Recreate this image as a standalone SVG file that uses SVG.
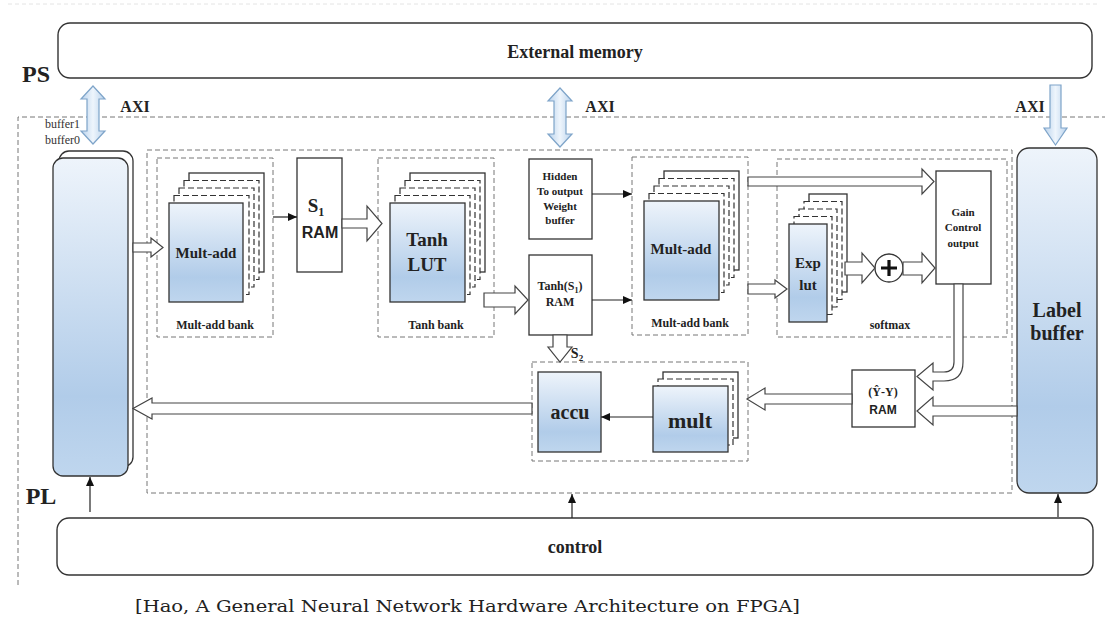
<svg xmlns="http://www.w3.org/2000/svg" width="1105" height="621" viewBox="0 0 1105 621">
<defs>
<linearGradient id="blue" x1="0" y1="0" x2="0" y2="1">
<stop offset="0" stop-color="#eef4fb"/>
<stop offset="0.75" stop-color="#b1cce9"/>
<stop offset="1" stop-color="#bfd6ee"/>
</linearGradient>
<linearGradient id="axi" x1="0" y1="0" x2="1" y2="0">
<stop offset="0" stop-color="#b9d2ec"/>
<stop offset="0.5" stop-color="#eef5fc"/>
<stop offset="1" stop-color="#b9d2ec"/>
</linearGradient>
<marker id="ah" markerWidth="10" markerHeight="8" refX="9" refY="4" orient="auto" markerUnits="userSpaceOnUse">
<path d="M0,0 L9,4 L0,8 Z" fill="#111"/>
</marker>
<style>
.t{font-family:"Liberation Serif","Times New Roman",serif;font-weight:bold;fill:#222;text-anchor:middle}
.s{font-family:"Liberation Sans",Arial,sans-serif;font-weight:bold;fill:#222;text-anchor:middle}
.box{fill:#fff;stroke:#333;stroke-width:1.3}
.blue{fill:url(#blue);stroke:#333;stroke-width:1.3}
.dash{fill:none;stroke:#777;stroke-width:1;stroke-dasharray:5,3}
.ldash{fill:#fff;stroke:#333;stroke-width:1.2;stroke-dasharray:6,3}
.hol{fill:#fff;stroke:#444;stroke-width:1.2;stroke-linejoin:miter}
.thin{stroke:#222;stroke-width:1.2;fill:none;marker-end:url(#ah)}
.axi{fill:url(#axi);stroke:#7ea4c9;stroke-width:1.2}
.rbox{fill:#fff;stroke:#333;stroke-width:1.4}
</style>
</defs>
<rect width="1105" height="621" fill="#fff"/>
<line x1="8" y1="4" x2="1100" y2="4" stroke="#e4e4e4" stroke-width="1" stroke-dasharray="4,3"/>

<!-- PS / PL regions -->
<g id="regions">
<path d="M18,585 L18,117 L1105,117" class="dash" stroke="#999"/>
<rect x="147" y="150" width="865" height="343" class="dash"/>
<text x="36" y="82" class="t" font-size="24">PS</text>
<text x="41" y="504" class="t" font-size="24">PL</text>
</g>

<g id="external-memory">
<rect x="58" y="23" width="1034" height="55" rx="12" class="rbox"/>
<text x="575" y="58" class="t" font-size="18">External memory</text>
</g>

<g id="control">
<rect x="57" y="518" width="1036" height="57" rx="12" class="rbox"/>
<text x="575" y="553" class="t" font-size="18">control</text>
</g>

<!-- AXI arrows -->
<g id="axi-left">
<path d="M93,86 L105,99 L99,99 L99,131 L105,131 L93,144 L81,131 L87,131 L87,99 L81,99 Z" class="axi"/>
<text x="135" y="112" class="t" font-size="16">AXI</text>
</g>
<g id="axi-mid">
<path d="M560,88 L572,101 L566,101 L566,134 L572,134 L560,147 L548,134 L554,134 L554,101 L548,101 Z" class="axi"/>
<text x="600" y="112" class="t" font-size="16">AXI</text>
</g>
<g id="axi-right">
<path d="M1050,85 L1061,85 L1061,128 L1067,128 L1055.5,145 L1044,128 L1050,128 Z" class="axi"/>
<text x="1030" y="112" class="t" font-size="16">AXI</text>
</g>

<!-- Input buffers -->
<g id="input-buffer">
<rect x="59" y="151" width="74" height="316" rx="10" class="box" fill="#fff"/>
<rect x="53" y="158" width="75" height="318" rx="10" class="blue"/>
<text x="45" y="128" font-family="Liberation Serif,serif" font-size="12" fill="#333">buffer1</text>
<text x="45" y="144" font-family="Liberation Serif,serif" font-size="12" fill="#333">buffer0</text>
</g>

<!-- Mult-add bank 1 -->
<g id="multadd-bank-1">
<rect x="157" y="158" width="116" height="179" class="dash"/>
<rect x="189" y="173" width="75" height="99" class="box"/>
<rect x="184" y="180.5" width="75" height="99" class="ldash"/>
<rect x="179" y="188" width="75" height="99" class="ldash"/>
<rect x="174" y="195.5" width="75" height="99" class="ldash"/>
<rect x="169" y="203" width="74" height="99" class="blue"/>
<text x="206" y="258" class="t" font-size="15">Mult-add</text>
<text x="215" y="329" class="t" font-size="12">Mult-add bank</text>
</g>

<g id="s1-ram">
<rect x="297" y="158" width="45" height="114" class="box"/>
<text x="316" y="212" class="t" font-size="19">S<tspan font-size="12" dy="4">1</tspan></text>
<text x="320" y="238" class="s" font-size="16">RAM</text>
</g>

<!-- Tanh bank -->
<g id="tanh-bank">
<rect x="378" y="158" width="116" height="179" class="dash"/>
<rect x="410" y="173" width="75" height="99" class="box"/>
<rect x="405" y="180.5" width="75" height="99" class="ldash"/>
<rect x="400" y="188" width="75" height="99" class="ldash"/>
<rect x="395" y="195.5" width="75" height="99" class="ldash"/>
<rect x="390" y="203" width="75" height="99" class="blue"/>
<text x="427" y="246" class="t" font-size="19">Tanh</text>
<text x="427" y="271" class="t" font-size="19">LUT</text>
<text x="436" y="329" class="t" font-size="12">Tanh bank</text>
</g>

<g id="hidden-weight-buffer">
<rect x="529" y="159" width="63" height="80" class="box"/>
<text x="560" y="180" class="t" font-size="11">Hidden</text>
<text x="560" y="195" class="t" font-size="11">To output</text>
<text x="560" y="210" class="t" font-size="11">Weight</text>
<text x="560" y="224" class="t" font-size="11">buffer</text>
</g>

<g id="tanh-s1-ram">
<rect x="529" y="255" width="63" height="80" class="box"/>
<text x="560" y="290" class="t" font-size="12">Tanh(S<tspan font-size="8" dy="3">1</tspan><tspan dy="-3">)</tspan></text>
<text x="560" y="306" class="t" font-size="12">RAM</text>
</g>

<!-- Mult-add bank 2 -->
<g id="multadd-bank-2">
<rect x="632" y="157" width="116" height="178" class="dash"/>
<rect x="664" y="171" width="75" height="99" class="box"/>
<rect x="659" y="178.5" width="75" height="99" class="ldash"/>
<rect x="654" y="186" width="75" height="99" class="ldash"/>
<rect x="649" y="193.5" width="75" height="99" class="ldash"/>
<rect x="644" y="201" width="75" height="99" class="blue"/>
<text x="681" y="254" class="t" font-size="15">Mult-add</text>
<text x="690" y="327" class="t" font-size="12">Mult-add bank</text>
</g>

<!-- softmax -->
<g id="softmax">
<rect x="777" y="159" width="230" height="178" class="dash"/>
<rect x="809" y="194" width="38" height="98" class="box"/>
<rect x="804" y="201.5" width="38" height="98" class="ldash"/>
<rect x="799" y="209" width="38" height="98" class="ldash"/>
<rect x="794" y="216.5" width="38" height="98" class="ldash"/>
<rect x="789" y="224" width="38" height="98" class="blue"/>
<text x="808" y="268" class="t" font-size="15">Exp</text>
<text x="808" y="290" class="t" font-size="15">lut</text>
<circle cx="889" cy="268" r="14" class="box"/>
<path d="M889,260 L889,276 M881,268 L897,268" stroke="#111" stroke-width="3.2"/>
<text x="890" y="329" class="t" font-size="12">softmax</text>
</g>

<g id="gain-control-output">
<rect x="936" y="171" width="55" height="113" class="box"/>
<text x="963" y="216" class="t" font-size="11">Gain</text>
<text x="963" y="231" class="t" font-size="11">Control</text>
<text x="963" y="247" class="t" font-size="11">output</text>
</g>

<g id="label-buffer">
<rect x="1017" y="148" width="80" height="345" rx="12" class="blue"/>
<text x="1057" y="317" class="t" font-size="20">Label</text>
<text x="1057" y="340" class="t" font-size="20">buffer</text>
</g>

<g id="yhat-ram">
<rect x="852" y="370" width="63" height="57" class="box"/>
<text x="883" y="396" class="t" font-size="12">(Ŷ-Y)</text>
<text x="883" y="414" class="s" font-size="12">RAM</text>
</g>

<!-- accu / mult -->
<g id="accu-mult-group">
<rect x="532" y="362" width="216" height="99" class="dash"/>
</g>
<g id="accu">
<rect x="538" y="372" width="63" height="80" class="blue"/>
<text x="570" y="419" class="t" font-size="20">accu</text>
</g>
<g id="mult">
<rect x="663" y="372" width="75" height="66" class="box"/>
<rect x="658" y="379" width="75" height="66" class="ldash"/>
<rect x="653" y="386" width="75" height="66" class="blue"/>
<text x="690" y="428" class="t" font-size="22">mult</text>
</g>

<!-- connectors -->
<g id="connectors">
<polygon class="hol" points="133,243 151,243 151,238 163,247.5 151,257 151,252 133,252"/>
<line class="thin" x1="273" y1="217" x2="297" y2="217"/>
<polygon class="hol" points="342,219 367,219 367,206 382,223.5 367,241 367,228 342,228"/>
<polygon class="hol" points="484,293 515,293 515,286 528,300 515,314 515,307 484,307"/>
<line class="thin" x1="592" y1="194" x2="632" y2="194"/>
<line class="thin" x1="592" y1="300" x2="632" y2="300"/>
<polygon class="hol" points="748,177 922,177 922,169 934,181.5 922,194 922,186 748,186"/>
<polygon class="hol" points="748,284 775,284 775,280 787,289 775,298 775,294 748,294"/>
<polygon class="hol" points="845,262 862,262 862,253 875,268 862,283 862,275 845,275"/>
<polygon class="hol" points="903,262 922,262 922,253 935,268 922,283 922,275 903,275"/>
<path class="hol" d="M954,284 L954,362 Q954,372 944,372 L933,372 L933,363 L917,376.5 L933,390 L933,381 L944,381 Q963,381 963,362 L963,284 Z"/>
<polygon class="hol" points="1017,406 933,406 933,397 917,411 933,425 933,416 1017,416"/>
<polygon class="hol" points="852,394 765,394 765,388 747,399 765,410 765,404 852,404"/>
<line class="thin" x1="653" y1="417" x2="601" y2="417"/>
<polygon class="hol" points="532,403 152,403 152,398 133,408.5 152,419 152,414 532,414"/>
<polygon class="hol" points="553,335 553,347 548,347 560,362 572,347 567,347 567,335"/>
<text x="577" y="358" class="t" font-size="14">S<tspan font-size="9" dy="3">2</tspan></text>
<line class="thin" x1="90" y1="512" x2="90" y2="477"/>
<line class="thin" x1="572" y1="518" x2="572" y2="494"/>
<line class="thin" x1="1058" y1="517" x2="1058" y2="494"/>
</g>

<text x="135" y="612" font-family="DejaVu Serif,Liberation Serif,serif" font-size="16" fill="#222" textLength="665" lengthAdjust="spacingAndGlyphs">[Hao, A General Neural Network Hardware Architecture on FPGA]</text>
</svg>
